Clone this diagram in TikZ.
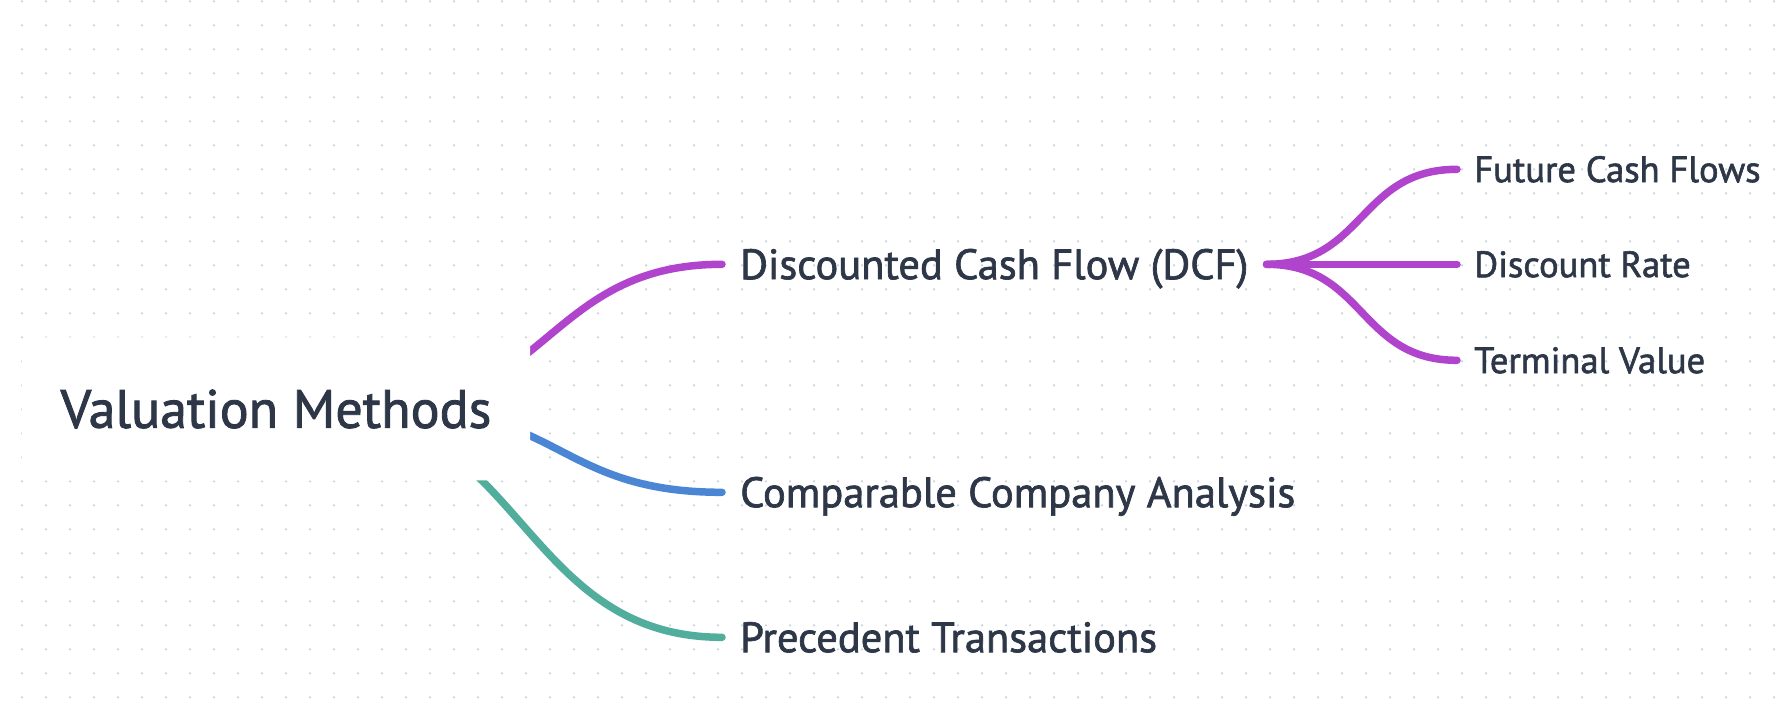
\documentclass[tikz,border=0pt]{standalone}
\usepackage{fontspec}
\setmainfont{PT Sans}[FakeBold=1.6]
\usepackage{xcolor}
\usepackage{tikz}
\usetikzlibrary{positioning}

\definecolor{dcfpurple}{HTML}{B044CC}
\definecolor{ccablue}{HTML}{4A86D4}
\definecolor{ptteal}{HTML}{52AE9C}
\definecolor{inkslate}{HTML}{2D3748}
\definecolor{griddot}{HTML}{CBD5E1}

\pgfdeclarelayer{dots}
\pgfdeclarelayer{links}
\pgfsetlayers{dots,links,main}

\begin{document}
\begin{tikzpicture}[x=1pt, y=-1pt, every node/.style={text=inkslate, inner ysep=0pt, text depth=0pt},
  branch/.style={line width=7.5pt, line cap=round},
  midtext/.style={anchor=west, inner xsep=18pt, text height=29.7pt, font=\fontsize{42.5}{46}\selectfont},
  subtext/.style={anchor=west, inner xsep=17pt, text height=25.6pt, font=\fontsize{36.6}{40}\selectfont}]

  \begin{pgfonlayer}{dots}
    \fill[white] (0,0) rectangle (1784,704);
    \foreach \i in {0,...,73}
      \foreach \j in {0,...,29}
        \fill[griddot] (22+24*\i, 24*\j) circle (1.3pt);
  \end{pgfonlayer}
  \useasboundingbox (0,0) rectangle (1784,704);

  \node (root) [fill=white, rounded corners=10pt, minimum width=508pt, minimum height=143pt, text height=38pt, font=\fontsize{54}{60}\selectfont] at (276,407.5) {Valuation Methods};

  \node (dcf) [midtext] at (722,263) {Discounted Cash Flow (DCF)};
  \node (cca) [midtext] at (722,491) {Comparable Company Analysis};
  \node (prec) [midtext] at (722,636) {Precedent Transactions};

  \node (fcf) [subtext] at (1457,168) {Future Cash Flows};
  \node (rate) [subtext] at (1457,263) {Discount Rate};
  \node (tv) [subtext] at (1457,359) {Terminal Value};

  \begin{pgfonlayer}{links}
    \draw [branch, dcfpurple] ([xshift=98pt]root.center) .. controls +(174,0) and +(-174,0) .. (dcf.west);
    \draw [branch, ccablue] ([xshift=122pt]root.center) .. controls +(162,0) and +(-162,0) .. (cca.west);
    \draw [branch, ptteal] ([xshift=44pt]root.center) .. controls +(201,0) and +(-201,0) .. (prec.west);
    \draw [branch, dcfpurple] (dcf.east) .. controls +(98,0) and +(-98,0) .. (fcf.west);
    \draw [branch, dcfpurple] (dcf.east) -- (rate.west);
    \draw [branch, dcfpurple] (dcf.east) .. controls +(98,0) and +(-98,0) .. (tv.west);
  \end{pgfonlayer}
\end{tikzpicture}
\end{document}
